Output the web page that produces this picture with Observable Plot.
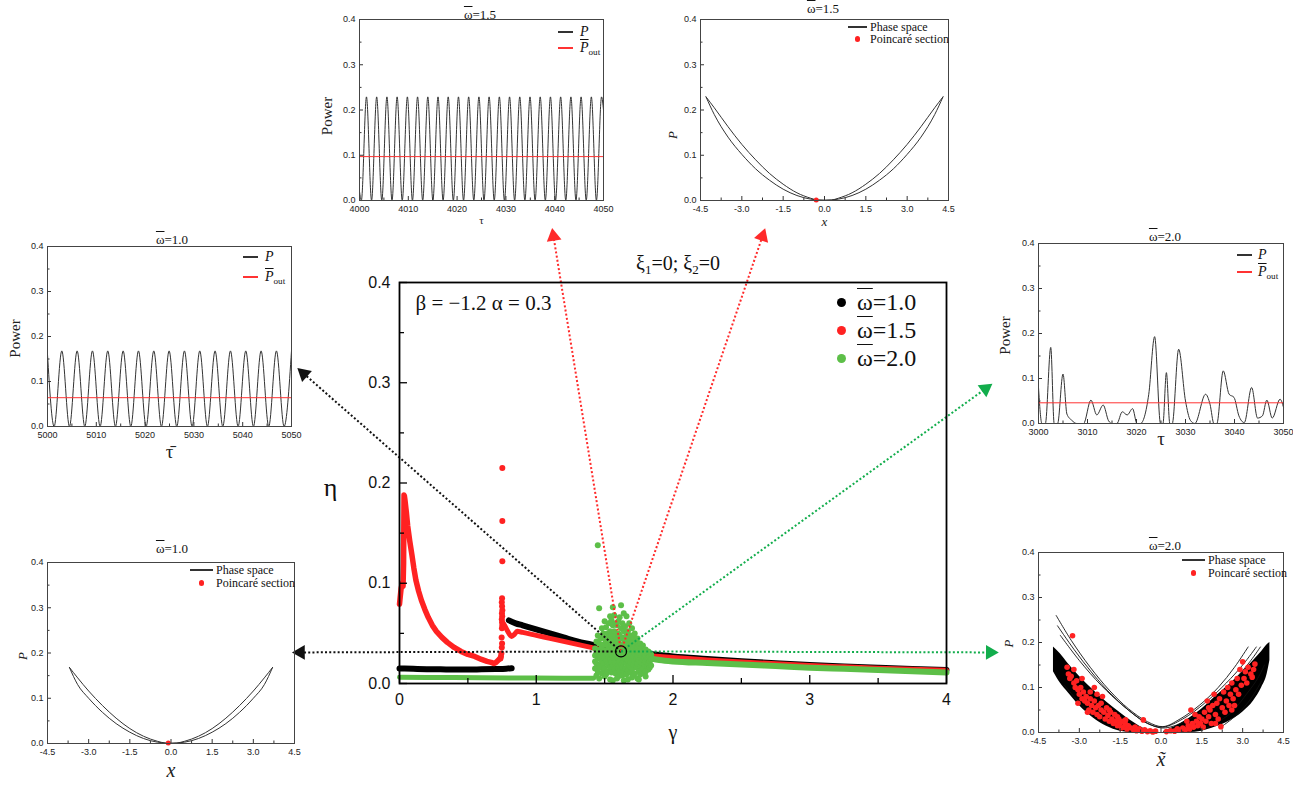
<!DOCTYPE html>
<html><head><meta charset="utf-8">
<script src="https://cdn.jsdelivr.net/npm/d3@7"></script>
<script src="https://cdn.jsdelivr.net/npm/@observablehq/plot@0.6"></script>
<style>
body{margin:0;background:#fff;overflow:hidden;}
#root{position:relative;width:1293px;height:786px;font-family:"Liberation Serif","Times New Roman",serif;color:#111;}
.lbl{position:absolute;white-space:nowrap;line-height:1;}
.ob{text-decoration:overline;text-decoration-thickness:1px;}
sub{font-size:65%;vertical-align:-0.3em;line-height:0;}
</style></head><body>
<div id="root"></div>
<script>
// ================= MAIN CHART DATA (gamma, eta) =================
const w10_flatG = [0,0.1,0.2,0.3,0.4,0.5,0.6,0.7,0.78,0.82];
const w10_flatE = [0.0150,0.0146,0.0143,0.0141,0.0140,0.0140,0.0141,0.0144,0.0148,0.0153];
const w10_decG = [0.80,0.85,0.9,1.0,1.1,1.2,1.3,1.4,1.5,1.6,1.7,1.8,1.9,2.0,2.25,2.5,2.75,3.0,3.25,3.5,3.75,4.0];
const w10_decE = [0.063,0.060,0.058,0.054,0.050,0.046,0.042,0.039,0.036,0.034,0.032,0.030,0.0285,0.027,0.0245,0.0222,0.0202,0.0185,0.017,0.0157,0.0145,0.0135];

const w15_lowG = [0.0,0.005,0.012,0.02,0.026,0.03,0.033,0.036,0.04,0.05,0.06,0.075,0.09,0.105,0.12,0.14,0.16,0.185,0.21,0.24,0.27,0.31,0.35,0.4,0.45,0.5,0.55,0.6,0.64,0.67,0.69,0.705,0.72,0.735];
const w15_lowE = [0.079,0.086,0.095,0.100,0.097,0.120,0.188,0.187,0.183,0.171,0.157,0.142,0.129,0.115,0.103,0.092,0.083,0.074,0.066,0.058,0.052,0.046,0.041,0.036,0.032,0.029,0.027,0.024,0.022,0.021,0.020,0.021,0.023,0.025];
const w15_scatG = [0.752,0.752,0.752,0.750,0.748,0.750,0.752,0.749,0.751,0.748,0.750,0.752,0.749,0.747,0.750,0.748,0.745,0.742,0.738];
const w15_scatE = [0.215,0.162,0.122,0.085,0.081,0.077,0.073,0.070,0.067,0.064,0.061,0.058,0.055,0.046,0.040,0.036,0.030,0.027,0.025];
const w15_highG = [0.76,0.78,0.80,0.82,0.84,0.86,0.9,1.0,1.1,1.2,1.3,1.4,1.5,1.6,1.7,1.8,1.9,2.0,2.25,2.5,2.75,3.0,3.25,3.5,3.75,4.0];
const w15_highE = [0.060,0.055,0.050,0.047,0.049,0.052,0.051,0.048,0.045,0.042,0.039,0.036,0.033,0.031,0.029,0.028,0.027,0.026,0.0235,0.0215,0.0197,0.018,0.0166,0.0153,0.0142,0.0133];

const w20_flatG = [0,0.4,0.8,1.2,1.42];
const w20_flatE = [0.0062,0.0059,0.0056,0.0053,0.0052];
const w20_tailG = [1.84,1.9,2.0,2.25,2.5,2.75,3.0,3.25,3.5,3.75,4.0];
const w20_tailE = [0.025,0.0235,0.022,0.0205,0.019,0.0174,0.0158,0.0146,0.0134,0.0122,0.011];
const w20_cluster = [
 [1.43,[0.035,0.028,0.022,0.015]],
 [1.44,[0.042,0.030,0.020,0.008]],
 [1.45,[0.138,0.048,0.033,0.025,0.012]],
 [1.46,[0.075,0.040,0.028,0.018,0.005]],
 [1.47,[0.045,0.034,0.026,0.016]],
 [1.48,[0.055,0.036,0.030,0.022,0.010]],
 [1.49,[0.050,0.039,0.028,0.020,0.012]],
 [1.50,[0.062,0.045,0.033,0.026,0.015,0.007]],
 [1.51,[0.056,0.042,0.031,0.023,0.009]],
 [1.52,[0.050,0.038,0.029,0.020,0.012]],
 [1.53,[0.060,0.046,0.034,0.026,0.018]],
 [1.54,[0.067,0.052,0.041,0.031,0.024,0.016,0.004]],
 [1.55,[0.063,0.048,0.038,0.029,0.021,0.011]],
 [1.56,[0.076,0.058,0.044,0.035,0.027,0.018,0.003]],
 [1.57,[0.068,0.052,0.040,0.031,0.023,0.014]],
 [1.58,[0.060,0.047,0.037,0.029,0.021,0.010]],
 [1.59,[0.058,0.044,0.034,0.026,0.017,0.005]],
 [1.60,[0.062,0.050,0.041,0.033,0.025,0.015,0.007]],
 [1.61,[0.066,0.048,0.038,0.030,0.022,0.012]],
 [1.62,[0.078,0.055,0.045,0.036,0.028,0.019]],
 [1.63,[0.060,0.046,0.035,0.026,0.016,0.008]],
 [1.64,[0.070,0.052,0.040,0.030,0.022,0.012,0.003]],
 [1.65,[0.057,0.043,0.034,0.025,0.015]],
 [1.66,[0.067,0.048,0.038,0.030,0.020,0.009]],
 [1.67,[0.052,0.040,0.032,0.023,0.013,0.004]],
 [1.68,[0.060,0.045,0.035,0.027,0.018]],
 [1.69,[0.048,0.038,0.029,0.021,0.011]],
 [1.70,[0.055,0.042,0.033,0.025,0.014,0.006]],
 [1.71,[0.046,0.035,0.027,0.019,0.008]],
 [1.72,[0.050,0.039,0.030,0.022,0.010]],
 [1.73,[0.041,0.033,0.025,0.016]],
 [1.74,[0.045,0.036,0.028,0.020,0.005]],
 [1.75,[0.038,0.030,0.023,0.012,0.004]],
 [1.76,[0.040,0.033,0.026,0.017,0.009]],
 [1.77,[0.035,0.028,0.021,0.013]],
 [1.78,[0.038,0.030,0.024,0.015]],
 [1.79,[0.032,0.026,0.019,0.010]],
 [1.80,[0.034,0.028,0.022,0.012,0.007]],
 [1.81,[0.030,0.024,0.017]],
 [1.82,[0.032,0.026,0.020,0.014]],
 [1.83,[0.027,0.022,0.016]],
 [1.84,[0.029,0.024,0.018]]
];
const markedG = [1.62], markedE = [0.032];
const legendLabels = ["1.0","1.5","2.0"];
const legendColors = ["#000000","#ff2222","#5dbf48"];

// annotation arrows: from the marked point to the insets (data units)
const arrowEndG = [-0.70,-0.724,1.126,2.654,4.285,4.32];
const arrowEndE = [0.309,0.031,0.446,0.446,0.294,0.031];
const arrowColors = ["#111111","#111111","#ff2a2a","#ff2a2a","#12ad4c","#12ad4c"];

// ================= INSET DATA =================
const p15_peakT = [4001.43,4003.52,4005.62,4007.71,4009.81,4011.90,4014.00,4016.09,4018.18,4020.28,4022.37,4024.47,4026.56,4028.66,4030.75,4032.84,4034.94,4037.03,4039.13,4041.22,4043.32,4045.41,4047.51,4049.60];
const p15_troughT = [4000.38,4002.47,4004.57,4006.66,4008.76,4010.85,4012.95,4015.04,4017.13,4019.23,4021.32,4023.42,4025.51,4027.61,4029.70,4031.79,4033.89,4035.98,4038.08,4040.17,4042.27,4044.36,4046.46,4048.55];
const p15_peak = 0.229, p15_out = 0.097;
const p15_edgeT = [4000,4050], p15_edgeP = [0.02,0.20];

const p10_peakT = [5002.93,5006.07,5009.21,5012.35,5015.50,5018.64,5021.78,5024.92,5028.06,5031.20,5034.34,5037.49,5040.63,5043.77,5046.91,5050.0];
const p10_troughT = [5001.36,5004.50,5007.64,5010.78,5013.92,5017.07,5020.21,5023.35,5026.49,5029.63,5032.77,5035.92,5039.06,5042.20,5045.34,5048.48];
const p10_peak = 0.168, p10_out = 0.064;
const p10_edgeT = [5000], p10_edgeP = [0.16];

const p20_T = [3000,3000.7,3001.4,3002.5,3003.2,3003.9,3005.0,3005.8,3006.8,3007.8,3009.2,3010.7,3011.9,3013.2,3014.3,3015.0,3016.0,3017.1,3018.1,3019.2,3020.1,3020.8,3022.5,3023.7,3024.9,3025.4,3026.1,3026.8,3027.3,3028.6,3030.0,3031.0,3031.9,3034.1,3035.0,3035.8,3036.4,3037.7,3038.9,3039.9,3040.9,3042.0,3043.5,3044.7,3045.7,3046.6,3047.7,3049.3,3050];
const p20_P = [0.080,0,0,0.169,0,0,0.110,0.021,0.007,0,0,0.052,0.019,0.041,0.006,0,0,0.026,0.019,0.033,0,0,0.065,0.193,0,0,0.113,0,0,0.165,0.050,0.007,0,0.065,0.043,0,0,0.117,0.065,0.058,0.017,0.002,0.080,0.012,0.017,0.052,0.012,0.054,0.036];
const p20_out = 0.046;

// phase space omega=1.5 (two branches)
const ph15_x = [-4.3,-4.0,-3.5,-3.0,-2.5,-2.0,-1.5,-1.0,-0.5,-0.25,0,0.5,1.0,1.5,2.0,2.5,3.0,3.5,4.0,4.3];
const ph15_A = [0.229,0.205,0.163,0.124,0.090,0.060,0.036,0.017,0.005,0.001,0.0005,0.003,0.011,0.025,0.045,0.070,0.102,0.140,0.190,0.229];
const ph15_xB = [-4.3,-4.0,-3.5,-3.0,-2.5,-2.0,-1.5,-1.0,-0.5,0,0.25,0.5,1.0,1.5,2.0,2.5,3.0,3.5,4.0,4.3];
const ph15_B = [0.229,0.190,0.140,0.102,0.070,0.045,0.025,0.011,0.003,0.0005,0.001,0.005,0.017,0.036,0.060,0.090,0.124,0.163,0.205,0.229];
const ph15_poincX = [-0.3], ph15_poincP = [0.001];

// phase space omega=1.0
const ph10_x = [-3.7,-3.4,-3.0,-2.5,-2.0,-1.5,-1.0,-0.5,-0.2,0,0.5,1.0,1.5,2.0,2.5,3.0,3.4,3.7];
const ph10_A = [0.168,0.145,0.116,0.084,0.056,0.033,0.016,0.005,0.001,0.0005,0.003,0.011,0.025,0.044,0.069,0.100,0.130,0.168];
const ph10_xB = [-3.7,-3.4,-3.0,-2.5,-2.0,-1.5,-1.0,-0.5,0,0.2,0.5,1.0,1.5,2.0,2.5,3.0,3.4,3.7];
const ph10_B = [0.168,0.130,0.100,0.069,0.044,0.025,0.011,0.003,0.0005,0.001,0.005,0.016,0.033,0.056,0.084,0.116,0.145,0.168];
const ph10_poincX = [-0.1], ph10_poincP = [0.001];

// phase space omega=2.0 (chaotic): dense bands, thin trajectories, Poincare points
const ph20_bandLx = [-3.95,-3.7,-3.4,-3.0,-2.5,-2.0,-1.5,-1.0,-0.6,-0.3,-0.1];
const ph20_bandLup = [0.190,0.175,0.152,0.125,0.095,0.068,0.044,0.022,0.008,0.002,0];
const ph20_bandLlo = [0.135,0.110,0.088,0.060,0.033,0.014,0.003,0,0,0,0];
const ph20_bandRx = [0.1,0.5,1.0,1.5,2.0,2.5,3.0,3.4,3.7,3.9,4.0];
const ph20_bandRup = [0.002,0.013,0.030,0.052,0.080,0.106,0.135,0.160,0.180,0.195,0.200];
const ph20_bandRlo = [0,0,0,0.003,0.012,0.025,0.045,0.070,0.100,0.130,0.160];
const ph20_arcsX = [
 [-3.85,-3.3,-2.6,-1.9,-1.2,-0.5,0.07,0.7,1.4,2.1,2.7,3.2],
 [-3.8,-3.2,-2.5,-1.8,-1.1,-0.5,0.07,0.8,1.6,2.4,3.0,3.5],
 [-3.7,-3.0,-2.2,-1.4,-0.6,0.05,0.9,1.8,2.6,3.3,3.65],
 [-3.55,-3.2,-2.9,-2.5],
 [2.2,2.8,3.3,3.7],
 [1.5,2.5,3.2,3.55,3.8]
];
const ph20_arcsP = [
 [0.260,0.205,0.145,0.094,0.053,0.024,0.013,0.030,0.060,0.100,0.145,0.190],
 [0.237,0.185,0.130,0.083,0.045,0.020,0.012,0.030,0.065,0.110,0.150,0.190],
 [0.216,0.160,0.105,0.060,0.024,0.010,0.025,0.062,0.110,0.160,0.190],
 [0.105,0.080,0.060,0.035],
 [0.012,0.040,0.075,0.115],
 [0.005,0.040,0.090,0.120,0.150]
];
const ph20_poinc = [
 [-3.45,0.145],[-3.4,0.13],[-3.35,0.12],[-3.3,0.125],[-3.25,0.215],[-3.2,0.11],[-3.15,0.1],[-3.1,0.115],[-3.05,0.095],[-3.0,0.085],
 [-2.95,0.1],[-2.9,0.075],[-2.85,0.09],[-2.8,0.07],[-2.75,0.08],[-2.7,0.065],[-2.65,0.05],[-2.6,0.075],[-2.55,0.06],[-2.5,0.045],
 [-2.45,0.1],[-2.4,0.055],[-2.35,0.04],[-2.3,0.06],[-2.25,0.035],[-2.2,0.05],[-2.15,0.08],[-2.1,0.045],[-2.05,0.03],[-2.0,0.055],
 [-1.95,0.038],[-1.9,0.025],[-1.85,0.045],[-1.8,0.03],[-1.75,0.02],[-1.7,0.04],[-1.65,0.025],[-1.6,0.015],[-1.55,0.03],[-1.5,0.02],
 [-1.45,0.01],[-1.4,0.025],[-1.35,0.012],[-1.3,0.018],[-1.25,0.008],[-1.2,0.015],[-1.1,0.01],[-1.0,0.005],[-0.95,0.012],[-0.9,0.004],
 [-0.8,0.008],[-0.7,0.003],[-0.65,0.028],[-0.6,0.006],[-0.5,0.002],[-0.4,0.004],[-0.3,0.001],[-0.2,0.003],[-3.2,0.14],[-2.9,0.12],
 [-2.6,0.09],[-3.05,0.065],[-2.7,0.045],[-2.45,0.07],[-2.35,0.085],[-2.2,0.065],[-1.9,0.05],[-1.6,0.035],[-1.3,0.028],
 [0.2,0.002],[0.35,0.004],[0.5,0.003],[0.6,0.008],[0.7,0.005],[0.8,0.01],[0.9,0.006],[1.0,0.015],[1.05,0.008],[1.1,0.05],
 [1.15,0.02],[1.2,0.012],[1.3,0.025],[1.35,0.015],[1.4,0.035],[1.45,0.02],[1.5,0.03],[1.55,0.012],[1.6,0.045],[1.65,0.025],
 [1.7,0.07],[1.75,0.035],[1.8,0.05],[1.85,0.02],[1.9,0.06],[1.95,0.085],[2.0,0.04],[2.05,0.065],[2.1,0.03],[2.15,0.075],
 [2.2,0.013],[2.25,0.055],[2.3,0.09],[2.35,0.045],[2.4,0.07],[2.45,0.1],[2.5,0.06],[2.55,0.085],[2.6,0.11],[2.65,0.075],
 [2.7,0.06],[2.75,0.095],[2.8,0.12],[2.85,0.085],[2.9,0.14],[2.95,0.105],[3.0,0.157],[3.05,0.12],[3.1,0.135],[3.15,0.11],
 [3.2,0.145],[3.3,0.13],[3.35,0.123],[3.45,0.152],[3.4,0.14],[1.25,0.04],[1.75,0.055],[2.0,0.02],[2.6,0.05],[0.95,0.025]
];

// tick values
const mainXTicks = [0,1,2,3,4], mainXMinor = [0.5,1.5,2.5,3.5];
const mainYTicks = [0,0.1,0.2,0.3,0.4], mainYMinor = [0.05,0.15,0.25,0.35];
const insYTicks = [0,0.1,0.2,0.3,0.4], insYMinor = [0.05,0.15,0.25,0.35];
const t15Ticks = [4000,4010,4020,4030,4040,4050], t15Minor = [4005,4015,4025,4035,4045];
const t10Ticks = [5000,5010,5020,5030,5040,5050], t10Minor = [5005,5015,5025,5035,5045];
const t20Ticks = [3000,3010,3020,3030,3040,3050], t20Minor = [3005,3015,3025,3035,3045];
const phTicks = [-4.5,-3.0,-1.5,0.0,1.5,3.0,4.5], phMinor = [-3.75,-2.25,-0.75,0.75,2.25,3.75];

// ================= HELPERS =================
const root = document.getElementById("root");
const SANS = "'Liberation Sans', Arial, sans-serif";
const SERIF = "'Liberation Serif', 'Times New Roman', serif";
function place(el, left, top){ el.style.position="absolute"; el.style.left=left+"px"; el.style.top=top+"px"; root.appendChild(el); }
function htext(x, y, html, size, anchor="start", italic=false){
  const d=document.createElement("div"); d.className="lbl";
  d.style.fontSize=size+"px"; d.style.left=x+"px"; d.style.top=(y-0.84*size)+"px";
  if(anchor==="middle") d.style.transform="translateX(-50%)";
  if(italic) d.style.fontStyle="italic";
  d.innerHTML=html; root.appendChild(d);
}
function swLine(x1,x2,y,color){ const d=document.createElement("div"); d.style.cssText=`position:absolute;left:${x1}px;top:${y-0.75}px;width:${x2-x1}px;height:1.5px;background:${color}`; root.appendChild(d);}
function swDot(x,y,r,color){ const d=document.createElement("div"); d.style.cssText=`position:absolute;left:${x-r}px;top:${y-r}px;width:${2*r}px;height:${2*r}px;border-radius:50%;background:${color}`; root.appendChild(d);}
const series = (xs, ys) => xs.map((x,i)=>({x, y: ys[i]}));

// ================= MAIN PLOT =================
const W=1293, H=786, ML=399, MR=347, MT=282, MB=103;
const kx = (W-ML-MR)/4, ky = (H-MT-MB)/0.4;
const clusterPts = w20_cluster.flatMap(([g, es]) => es.map(e => ({x:g, y:e})));
const arrows = arrowEndG.map((g,i)=>({
  x1: markedG[0], y1: markedE[0], x2: g, y2: arrowEndE[i], c: arrowColors[i],
  rot: Math.atan2((g-markedG[0])*kx, (arrowEndE[i]-markedE[0])*ky)*180/Math.PI
}));
const legendPts = legendLabels.map((l,i)=>({l, c: legendColors[i], i}));

const main = Plot.plot({
  width: W, height: H, marginLeft: ML, marginRight: MR, marginTop: MT, marginBottom: MB,
  style: `background:transparent;overflow:visible;font-family:${SANS};font-size:16px;color:#111;`,
  x: {domain: [0,4], label: null}, y: {domain: [0,0.4], label: null},
  color: {type: "identity"},
  marks: [
    Plot.line(series(w10_flatG, w10_flatE), {x:"x", y:"y", stroke:"#000", strokeWidth:6, curve:"monotone-x"}),
    Plot.line(series(w10_decG, w10_decE), {x:"x", y:"y", stroke:"#000", strokeWidth:6, curve:"monotone-x"}),
    Plot.line(series(w15_lowG, w15_lowE), {x:"x", y:"y", stroke:"#ff2222", strokeWidth:5.5, curve:"linear", strokeLinejoin:"round"}),
    Plot.dot(series(w15_scatG, w15_scatE), {x:"x", y:"y", r:3, fill:"#ff2222"}),
    Plot.line(series(w15_highG, w15_highE), {x:"x", y:"y", stroke:"#ff2222", strokeWidth:5, curve:"monotone-x"}),
    Plot.line(series(w20_flatG, w20_flatE), {x:"x", y:"y", stroke:"#5dbf48", strokeWidth:5, curve:"monotone-x"}),
    Plot.line(series(w20_tailG, w20_tailE), {x:"x", y:"y", stroke:"#5dbf48", strokeWidth:6, curve:"monotone-x"}),
    Plot.dot(clusterPts, {x:"x", y:"y", r:3, fill:"#5dbf48"}),
    Plot.link(arrows, {x1:"x1", y1:"y1", x2:"x2", y2:"y2", stroke:"c", strokeWidth:2, strokeDasharray:"2,2.2"}),
    Plot.dot(arrows, {x:"x2", y:"y2", symbol:"triangle", r:5.5, fill:"c", rotate:"rot"}),
    Plot.dot(series(markedG, markedE), {x:"x", y:"y", r:5.5, stroke:"#000", strokeWidth:1.2, fill:"none"}),
    Plot.tickX(mainXTicks, {x:d=>d, insetTop:(H-MT-MB)-8, stroke:"#000", strokeWidth:1.3}),
    Plot.tickX(mainXMinor, {x:d=>d, insetTop:(H-MT-MB)-5, stroke:"#000", strokeWidth:1.3}),
    Plot.tickY(mainYTicks, {y:d=>d, insetRight:(W-ML-MR)-8, stroke:"#000", strokeWidth:1.3}),
    Plot.tickY(mainYMinor, {y:d=>d, insetRight:(W-ML-MR)-5, stroke:"#000", strokeWidth:1.3}),
    Plot.axisX({ticks: mainXTicks, tickSize:0, tickPadding:10, tickFormat:d=>String(d), fontSize:16}),
    Plot.axisY({ticks: mainYTicks, tickSize:0, tickPadding:9, tickFormat:d=>d.toFixed(1), fontSize:16}),
    Plot.frame({stroke:"#000", strokeWidth:1.8}),
    ...legendPts.map(d => Plot.dot([d], {frameAnchor:"top-left", dx:442, dy:20+28*d.i, r:4.5, fill:d.c})),
    Plot.text(["η"], {frameAnchor:"left", dx:-69, dy:5, fontSize:26, fontFamily:SERIF, textAnchor:"middle"}),
    Plot.text(["γ"], {frameAnchor:"bottom", dy:55, fontSize:20, fontFamily:SERIF}),
    Plot.text(["β = −1.2 α = 0.3"], {frameAnchor:"top-left", dx:16, dy:21, lineAnchor:"middle", textAnchor:"start", fontSize:21, fontFamily:SERIF})
  ]
});
place(main, 0, 0);
htext(678, 270, "ξ<sub>1</sub>=0; ξ<sub>2</sub>=0", 20, "middle");
legendLabels.forEach((l,i)=> htext(857, 310+28*i, `<span class="ob">ω</span>=${l}`, 24));

// ================= INSETS =================
function inset(c){
  const fw = c.width-c.ml-c.mr, fh = c.height-c.mt-c.mb;
  const p = Plot.plot({
    width:c.width, height:c.height, marginLeft:c.ml, marginRight:c.mr, marginTop:c.mt, marginBottom:c.mb,
    style:`background:transparent;overflow:visible;font-family:${SANS};font-size:9px;color:#222;`,
    x:{domain:c.xDomain, label:null}, y:{domain:[0,0.4], label:null},
    marks:[
      ...c.marks,
      Plot.tickX(c.xTicks, {x:d=>d, insetTop:fh-4, stroke:"#333"}),
      Plot.tickX(c.xMinor, {x:d=>d, insetTop:fh-2.5, stroke:"#333"}),
      Plot.tickY(insYTicks, {y:d=>d, insetRight:fw-4, stroke:"#333"}),
      Plot.tickY(insYMinor, {y:d=>d, insetRight:fw-2.5, stroke:"#333"}),
      Plot.axisX({ticks:c.xTicks, tickSize:0, tickPadding:5, tickFormat:c.xFmt, fontSize:9}),
      Plot.axisY({ticks:insYTicks, tickSize:0, tickPadding:4, tickFormat:d=>d.toFixed(1), fontSize:9}),
      Plot.frame({stroke:"#444", strokeWidth:1}),
      Plot.text([c.ylab], {frameAnchor:"left", dx:c.ydx, dy:c.ydy, rotate:-90, textAnchor:"middle", lineAnchor:"middle", fontSize:c.ysize, fontFamily:SERIF, fontStyle:c.yit?"italic":"normal"}),
      Plot.text([c.xlab], {frameAnchor:"bottom", dy:c.xdy, fontSize:c.xsize, fontFamily:SERIF, fontStyle:c.xit?"italic":"normal"})
    ]
  });
  place(p, c.left, c.top);
}
function powerSeries(peakT, troughT, peak, edgeT, edgeP){
  const pts = [...peakT.map(t=>({x:t,y:peak})), ...troughT.map(t=>({x:t,y:0})), ...edgeT.map((t,i)=>({x:t,y:edgeP[i]}))];
  return pts.sort((a,b)=>a.x-b.x);
}
const fmtInt = d=>String(d), fmtPh = d=>d.toFixed(1);

// inset 1: omega=1.5 power
inset({left:300, top:0, width:320, height:232, ml:59, mr:17, mt:19, mb:32,
  xDomain:[4000,4050], xTicks:t15Ticks, xMinor:t15Minor, xFmt:fmtInt,
  ylab:"Power", ydx:-32, ydy:6, ysize:15, xlab:"τ", xdy:23, xsize:11,
  marks:[
    Plot.line(powerSeries(p15_peakT, p15_troughT, p15_peak, p15_edgeT, p15_edgeP), {x:"x", y:"y", stroke:"#333", strokeWidth:1, curve:"monotone-x"}),
    Plot.ruleY([p15_out], {stroke:"#ff3333", strokeWidth:1})
  ]});
// inset 2: omega=1.5 phase
inset({left:660, top:0, width:300, height:232, ml:40, mr:12, mt:19, mb:32,
  xDomain:[-4.5,4.5], xTicks:phTicks, xMinor:phMinor, xFmt:fmtPh,
  ylab:"P", yit:true, ydx:-28, ydy:25, ysize:13, xlab:"x", xit:true, xdy:25, xsize:13,
  marks:[
    Plot.line(series(ph15_x, ph15_A), {x:"x", y:"y", stroke:"#333", strokeWidth:1, curve:"monotone-x"}),
    Plot.line(series(ph15_xB, ph15_B), {x:"x", y:"y", stroke:"#333", strokeWidth:1, curve:"monotone-x"}),
    Plot.dot(series(ph15_poincX, ph15_poincP), {x:"x", y:"y", r:2.5, fill:"#ff2222"})
  ]});
// inset 3: omega=1.0 power
inset({left:0, top:230, width:310, height:240, ml:47, mr:19, mt:16, mb:44,
  xDomain:[5000,5050], xTicks:t10Ticks, xMinor:t10Minor, xFmt:fmtInt,
  ylab:"Power", ydx:-32, ydy:2, ysize:15, xlab:"τ\u0304", xdy:31, xsize:19,
  marks:[
    Plot.line(powerSeries(p10_peakT, p10_troughT, p10_peak, p10_edgeT, p10_edgeP), {x:"x", y:"y", stroke:"#333", strokeWidth:1, curve:"monotone-x"}),
    Plot.ruleY([p10_out], {stroke:"#ff3333", strokeWidth:1})
  ]});
// inset 4: omega=2.0 power
inset({left:980, top:230, width:313, height:240, ml:58, mr:10, mt:13, mb:47,
  xDomain:[3000,3050], xTicks:t20Ticks, xMinor:t20Minor, xFmt:fmtInt,
  ylab:"Power", ydx:-33, ydy:2, ysize:15, xlab:"τ", xdy:21, xsize:19,
  marks:[
    Plot.line(series(p20_T, p20_P), {x:"x", y:"y", stroke:"#333", strokeWidth:1, curve:"monotone-x"}),
    Plot.ruleY([p20_out], {stroke:"#ff3333", strokeWidth:1})
  ]});
// inset 5: omega=1.0 phase
inset({left:0, top:535, width:310, height:251, ml:47, mr:16, mt:27, mb:43,
  xDomain:[-4.5,4.5], xTicks:phTicks, xMinor:phMinor, xFmt:fmtPh,
  ylab:"P", yit:true, ydx:-25, ydy:3, ysize:13, xlab:"x", xit:true, xdy:33, xsize:20,
  marks:[
    Plot.line(series(ph10_x, ph10_A), {x:"x", y:"y", stroke:"#333", strokeWidth:1, curve:"monotone-x"}),
    Plot.line(series(ph10_xB, ph10_B), {x:"x", y:"y", stroke:"#333", strokeWidth:1, curve:"monotone-x"}),
    Plot.dot(series(ph10_poincX, ph10_poincP), {x:"x", y:"y", r:2.5, fill:"#ff2222"})
  ]});
// inset 6: omega=2.0 phase
const arcPts = ph20_arcsX.flatMap((xs,k)=>xs.map((x,i)=>({x, y:ph20_arcsP[k][i], k})));
inset({left:980, top:535, width:313, height:251, ml:58, mr:10, mt:17, mb:54,
  xDomain:[-4.5,4.5], xTicks:phTicks, xMinor:phMinor, xFmt:fmtPh,
  ylab:"P", yit:true, ydx:-30, ydy:1, ysize:13, xlab:"x\u0303", xit:true, xdy:33, xsize:20,
  marks:[
    Plot.areaY(ph20_bandLx, {x:ph20_bandLx, y1:ph20_bandLlo, y2:ph20_bandLup, fill:"#000", curve:"monotone-x"}),
    Plot.areaY(ph20_bandRx, {x:ph20_bandRx, y1:ph20_bandRlo, y2:ph20_bandRup, fill:"#000", curve:"monotone-x"}),
    Plot.line(arcPts, {x:"x", y:"y", z:"k", stroke:"#111", strokeWidth:0.9, curve:"catmull-rom"}),
    Plot.dot(ph20_poinc, {x:d=>d[0], y:d=>d[1], r:2.8, fill:"#ff2222"})
  ]});

// inset titles
const omegaT = v => `<span class="ob">ω</span>=${v}`;
htext(480, 19, omegaT("1.5"), 13, "middle");
htext(823, 13, omegaT("1.5"), 13, "middle");
htext(172, 244, omegaT("1.0"), 13, "middle");
htext(1165, 241, omegaT("2.0"), 13, "middle");
htext(172, 553, omegaT("1.0"), 13, "middle");
htext(1165, 550, omegaT("2.0"), 13, "middle");

// inset legends
const pOut = `<span class="ob"><i>P</i></span><sub>out</sub>`;
function powerLegend(x1, x2, y1, y2, tx){
  swLine(x1, x2, y1, "#333"); htext(tx, y1+5, "<i>P</i>", 14);
  swLine(x1, x2, y2, "#ff3333"); htext(tx, y2+5, pOut, 14);
}
powerLegend(558, 573, 32, 48, 580);
powerLegend(243, 258, 257, 277, 265);
powerLegend(1237, 1252, 255, 272, 1258);
function phaseLegend(x1, x2, y1, y2, tx){
  swLine(x1, x2, y1, "#333"); htext(tx, y1+4, "Phase space", 12);
  swDot((x1+x2)/2, y2, 2.8, "#ff2222"); htext(tx, y2+4, "Poincaré section", 12);
}
phaseLegend(848, 867, 27, 39, 870);
phaseLegend(190, 213, 570, 583, 216);
phaseLegend(1182, 1205, 560, 573, 1208);
</script></body></html>
